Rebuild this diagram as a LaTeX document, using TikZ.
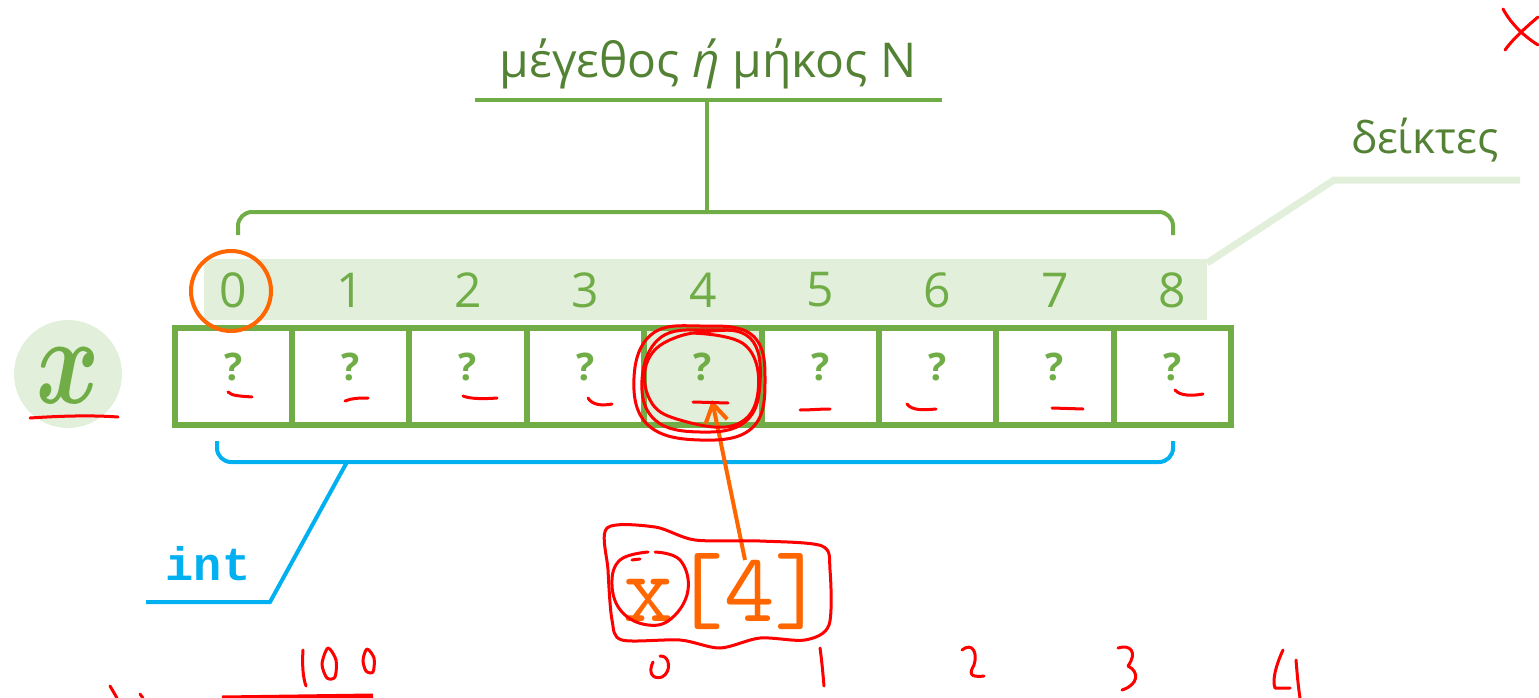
\documentclass[tikz,border=0pt]{standalone}
\usepackage{bm}
\usepackage{fontspec}
\setmainfont{Open Sans}
\newfontfamily\monof{Liberation Mono}
\usetikzlibrary{arrows.meta}
\definecolor{gmain}{HTML}{70AD47}
\definecolor{gdark}{HTML}{548235}
\definecolor{glight}{HTML}{E2EFDA}
\definecolor{orng}{HTML}{FF6600}
\definecolor{bluec}{HTML}{00B0F0}
\definecolor{redc}{HTML}{FF0000}
\begin{document}
\begin{tikzpicture}[x=1pt,y=-1pt,
  cell/.style={draw=gmain,line width=6pt,minimum width=117.4pt,minimum height=97pt,inner sep=0pt},
  idx/.style={font=\fontsize{48}{48}\selectfont,text=gmain,inner sep=0pt},
  qm/.style={font=\fontsize{38}{38}\selectfont\bfseries,text=gmain,inner sep=0pt},
  gline/.style={draw=gmain,line width=4pt},
  bline/.style={draw=bluec,line width=4pt},
  pen/.style={draw=redc,line width=3pt,line cap=round,line join=round}]
\useasboundingbox (0,0) rectangle (1539,698);
% index band
\fill[glight] (204,259) rectangle (1207,320);
\coordinate (b1) at (1207,263);
\coordinate (b2) at (1334,180);
\coordinate (b3) at (1520,180);
\draw[glight,line width=7pt] (b1) -- (b2) -- (b3);
\node[font=\fontsize{44}{44}\selectfont,text=gdark] (dk) at (1425,140) {δείκτες};
% title
\node[font=\fontsize{48}{48}\selectfont,text=gdark] (title) at (708,64) {μέγεθος \textit{ή} μήκος N};
\coordinate (u1) at (475,100);
\coordinate (u2) at (942,100);
\coordinate (um) at (707,100);
\coordinate (bm) at (707,212);
\draw[gline] (u1) -- (u2);
\draw[gline] (um) -- (bm);
\draw[gline,rounded corners=14pt] (238,235) -- (238,212) -- (1173,212) -- (1173,235);
% cells and indices
\foreach \i in {0,...,8}{
  \pgfmathsetmacro{\cx}{174.5+117.4*(\i+0.5)}
  \node[idx] (i\i) at (\cx,290) {\i};
}
\foreach \i in {0,1,2,3,5,6,7,8}{
  \pgfmathsetmacro{\cx}{174.5+117.4*(\i+0.5)}
  \node[cell] (c\i) at (\cx,376.5) {};
  \node[qm] (q\i) at (\cx,367) {?};
}
\node[cell,fill=glight] (c4) at (702.8,376.5) {};
\node[qm] (q4) at (702.8,367) {?};
% orange circle on 0
\node[draw=orng,line width=4pt,circle,minimum size=80pt,inner sep=0pt] (oc) at (231,291) {};
% variable x
\node[circle,fill=glight,minimum size=108pt,inner sep=0pt] (xc) at (68,374) {};
\node[text=gmain,inner sep=0pt] (xv) at (68,376) {\scalebox{9.6}[12.5]{$\bm{x}$}};
% blue brace and int
\draw[bline,rounded corners=14pt] (217,441) -- (217,462) -- (1173,462) -- (1173,441);
\coordinate (t1) at (347,462);
\coordinate (t2) at (270,602);
\coordinate (t3) at (146,602);
\draw[bline] (t1) -- (t2) -- (t3);
\node[text=bluec,font=\monof\bfseries\fontsize{47}{47}\selectfont,inner sep=0pt] (int) at (208,564) {int};
% x[4]
\node[text=orng,font=\ttfamily\fontsize{98}{98}\selectfont,inner sep=0pt] (x4) at (724,592) {x[4]};
\coordinate (as) at (745,560);
\coordinate (ae) at (712,400);
\draw[orng,line width=4pt,-{Straight Barb[length=18pt,width=22pt]}] (as) -- (ae);
% red handwriting
\draw[pen] (30,418) .. controls (60,416) and (90,415) .. (118,417);
\draw[pen] (228,392) .. controls (232,396) and (240,396) .. (252,397);
\draw[pen] (345,401) .. controls (352,398) and (360,398) .. (368,398);
\draw[pen] (463,396) .. controls (470,399) and (485,399) .. (497,398);
\draw[pen] (588,398) .. controls (592,405) and (602,406) .. (612,404);
\draw[pen] (693,402) -- (728,403);
\draw[pen] (800,410) .. controls (810,410) and (820,409) .. (830,409);
\draw[pen] (907,404) .. controls (912,411) and (925,410) .. (936,409);
\draw[pen] (1052,408) -- (1083,409);
\draw[pen] (1175,390) .. controls (1180,396) and (1192,396) .. (1203,394);
% loops round cell 4
\draw[pen] plot[smooth cycle,tension=0.7] coordinates {(700,326) (752,335) (765,380) (752,428) (700,440) (648,425) (634,378) (652,334)};
\draw[pen] plot[smooth cycle,tension=0.7] coordinates {(705,330) (750,338) (760,383) (745,422) (700,432) (655,420) (642,380) (660,338)};
\draw[pen] plot[smooth,tension=0.7] coordinates {(690,333) (745,345) (758,392) (735,425) (680,420) (650,400) (648,360) (680,336) (735,330)};
% circle round x
\draw[pen] plot[smooth,tension=0.7] coordinates {(655,552) (680,560) (688,590) (672,618) (648,625) (622,612) (612,585) (620,560) (648,552)};
\draw[pen] (632,560) -- (640,559);
% box round x[4]
\draw[pen] plot[smooth cycle,tension=0.5] coordinates {(607,528) (655,527) (695,540) (760,541) (822,546) (830,570) (829,625) (805,640) (760,638) (720,648) (680,640) (622,640) (612,620) (608,570)};
% X top right
\draw[pen] (1503,9) .. controls (1510,22) and (1522,35) .. (1538,45);
\draw[pen] (1538,17) .. controls (1525,28) and (1512,40) .. (1505,50);
% digits at bottom
\draw[pen] (303,650) .. controls (302,665) and (303,678) .. (306,686);
\draw[pen] plot[smooth cycle] coordinates {(328,648) (336,660) (335,677) (327,678) (322,664)};
\draw[pen] plot[smooth cycle] coordinates {(367,649) (374,658) (373,672) (366,671) (363,660)};
\draw[pen] (653,662) .. controls (648,672) and (652,680) .. (662,677) .. controls (672,672) and (670,655) .. (660,656);
\draw[pen] (820,648) .. controls (822,662) and (823,675) .. (824,686);
\draw[pen] (962,650) .. controls (972,642) and (978,652) .. (974,665) .. controls (970,672) and (968,678) .. (984,676);
\draw[pen] (1118,648) .. controls (1130,644) and (1138,652) .. (1128,666) .. controls (1140,672) and (1138,685) .. (1122,690);
\draw[pen] (1283,650) .. controls (1276,665) and (1272,680) .. (1275,688) -- (1290,688);
\draw[pen] (1296,660) .. controls (1297,672) and (1298,685) .. (1300,698);
\draw[pen] (110,686) -- (117,698);
\draw[pen] (140,694) -- (143,698);
\draw[redc,line width=5pt] (222,698) -- (373,696);
\end{tikzpicture}
\end{document}
